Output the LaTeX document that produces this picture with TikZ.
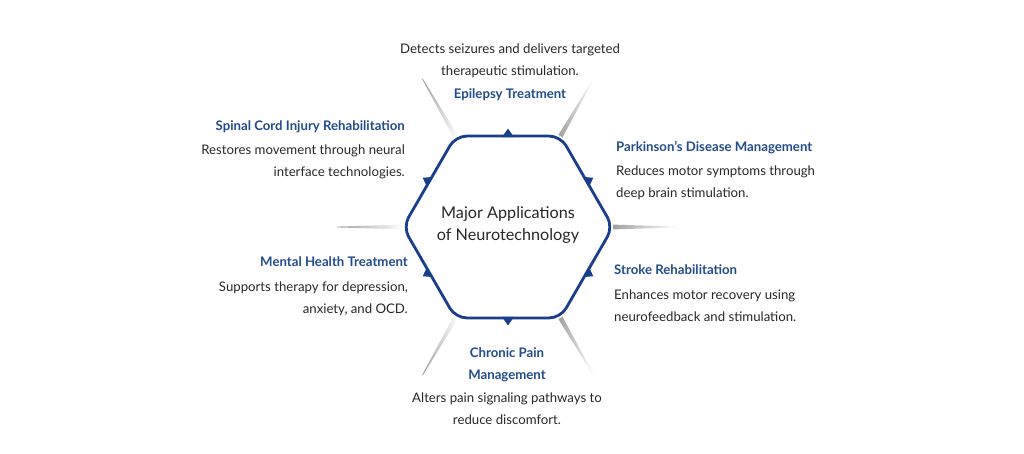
\documentclass[tikz,border=0pt]{standalone}
\usepackage{fontspec}
\setmainfont{Lato}
\usetikzlibrary{calc}
\definecolor{navy}{RGB}{24,62,140}
\definecolor{headblue}{RGB}{33,76,140}
\definecolor{txt}{RGB}{40,40,40}
\begin{document}
\begin{tikzpicture}[x=1pt,y=-1pt,
  hexline/.style={draw=navy,line width=2.8pt,rounded corners=11pt},
  marker/.pic={\fill[navy] (-6,1) -- (6,1) -- (0,-7.5) -- cycle;},
  ray/.pic={\shade[left color=gray!75,right color=white] (0,-2.4) -- (66,-0.4) -- (66,0.4) -- (0,2.4) -- cycle;},
  item/.style={inner sep=0pt,text=txt,font=\fontsize{13.2}{22}\selectfont},
  hub/.style={inner sep=0pt,text=txt,align=center,font=\fontsize{16.2}{21.5}\selectfont}]
\useasboundingbox (0,0) rectangle (1024,454);
\fill[white] (0,0) rectangle (1024,454);
% hexagon vertices
\coordinate (V0) at (613,227);
\coordinate (V1) at (560.5,136.1);
\coordinate (V2) at (455.5,136.1);
\coordinate (V3) at (403,227);
\coordinate (V4) at (455.5,317.9);
\coordinate (V5) at (560.5,317.9);
\coordinate (M01) at ($(V0)!0.5!(V1)$);
\coordinate (M12) at ($(V1)!0.5!(V2)$);
\coordinate (M23) at ($(V2)!0.5!(V3)$);
\coordinate (M34) at ($(V3)!0.5!(V4)$);
\coordinate (M45) at ($(V4)!0.5!(V5)$);
\coordinate (M50) at ($(V5)!0.5!(V0)$);
% rays
\pic[rotate=0] at (V0) {ray};
\pic[rotate=60] at (V1) {ray};
\pic[rotate=120] at (V2) {ray};
\pic[rotate=180] at (V3) {ray};
\pic[rotate=240] at (V4) {ray};
\pic[rotate=300] at (V5) {ray};
% hexagon
\draw[hexline] (M01) -- (V1) -- (V2) -- (V3) -- (V4) -- (V5) -- (V0) -- cycle;
\pic[rotate=-60] at (M01) {marker};
\pic[rotate=0] at (M12) {marker};
\pic[rotate=60] at (M23) {marker};
\pic[rotate=120] at (M34) {marker};
\pic[rotate=180] at (M45) {marker};
\pic[rotate=-120] at (M50) {marker};
\node[hub] (hub) at (508,225) {Major Applications\\of Neurotechnology};
% items
\node[item,align=center,anchor=north] (epi) at (510,44)
  {Detects seizures and delivers targeted\\therapeutic stimulation.\\[1pt]{\color{headblue}\bfseries Epilepsy Treatment}};
\node[item,align=right,anchor=north east] (spinal) at (405,120)
  {{\color{headblue}\bfseries Spinal Cord Injury Rehabilitation}\\[2.5pt]Restores movement through neural\\interface technologies.};
\node[item,align=left,anchor=north west] (park) at (616,141)
  {{\color{headblue}\bfseries Parkinson’s Disease Management}\\[2.5pt]Reduces motor symptoms through\\deep brain stimulation.};
\node[item,align=right,anchor=north east] (mental) at (408,256)
  {{\color{headblue}\bfseries Mental Health Treatment}\hspace{5pt}\\[3pt]Supports therapy for depression,\\anxiety, and OCD.};
\node[item,align=left,anchor=north west] (stroke) at (614,264)
  {{\color{headblue}\bfseries Stroke Rehabilitation}\\[3pt]Enhances motor recovery using\\neurofeedback and stimulation.};
\node[item,align=center,anchor=north] (pain) at (507,347)
  {{\color{headblue}\bfseries Chronic Pain}\\{\color{headblue}\bfseries Management}\\[1.5pt]Alters pain signaling pathways to\\reduce discomfort.};
\end{tikzpicture}
\end{document}
